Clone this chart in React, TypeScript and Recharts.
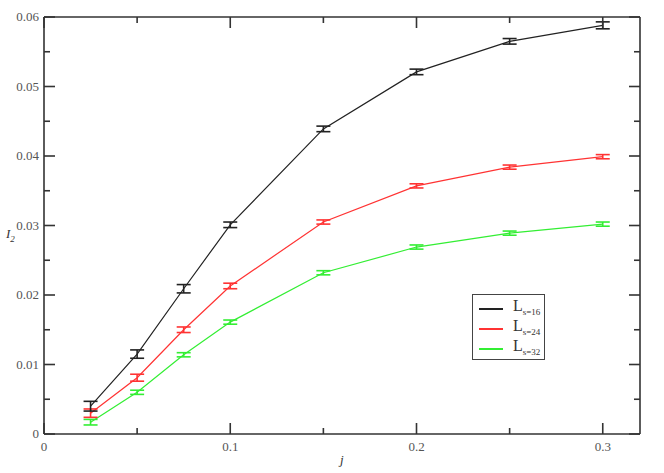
import { ComposedChart, Line, Scatter, XAxis, YAxis, ErrorBar, Legend } from "recharts";

const jValues = [0.025, 0.05, 0.075, 0.1, 0.15, 0.2, 0.25, 0.3];

const ls16 = [0.004, 0.0115, 0.0209, 0.0301, 0.0439, 0.0521, 0.0565, 0.0588];
const ls16Err = [0.0007, 0.0006, 0.0006, 0.0004, 0.0004, 0.0004, 0.0004, 0.0005];
const ls24 = [0.003, 0.0081, 0.015, 0.0213, 0.0305, 0.0357, 0.0384, 0.0399];
const ls24Err = [0.0006, 0.0005, 0.0004, 0.0004, 0.0003, 0.0003, 0.0003, 0.0003];
const ls32 = [0.0017, 0.006, 0.0114, 0.0161, 0.0232, 0.0269, 0.0289, 0.0302];
const ls32Err = [0.0004, 0.0003, 0.0003, 0.0003, 0.0003, 0.0003, 0.0003, 0.0003];

const xTicks = [0, 0.05, 0.1, 0.15, 0.2, 0.25, 0.3];
const yTicks = [0, 0.005, 0.01, 0.015, 0.02, 0.025, 0.03, 0.035, 0.04, 0.045, 0.05, 0.055, 0.06];
const X_MAX = 0.32;
const Y_MAX = 0.06;

const series = [
  { key: "ls32", sub: "s=32", color: "#33ee33" },
  { key: "ls24", sub: "s=24", color: "#ff3333" },
  { key: "ls16", sub: "s=16", color: "#222222" },
];

const data = jValues.map((j, i) => ({
  j,
  ls16: ls16[i],
  ls16Err: ls16Err[i],
  ls24: ls24[i],
  ls24Err: ls24Err[i],
  ls32: ls32[i],
  ls32Err: ls32Err[i],
}));

// tick mark anchors on each frame side
const bottomMarks = xTicks.map((v) => ({ j: v, val: 0, t: v }));
const topMarks = xTicks.map((v) => ({ j: v, val: Y_MAX, t: v }));
const leftMarks = yTicks.map((v) => ({ j: 0, val: v, t: v }));
const rightMarks = yTicks.map((v) => ({ j: X_MAX, val: v, t: v }));

const FONT = "'Liberation Serif', 'Times New Roman', serif";
const AXIS = "#333";
const MAJOR = 11;
const MINOR = 6;

const isMajor = (v: number, step: number) => {
  const r = v / step;
  return Math.abs(r - Math.round(r)) < 1e-6;
};

// inward tick mark drawn at a scaled point on the frame
const makeMark = (side: string) => (props: any) => {
  const { cx, cy, payload } = props;
  const step = side === "bottom" || side === "top" ? 0.1 : 0.01;
  const len = isMajor(payload.t, step) ? MAJOR : MINOR;
  let x2 = cx;
  let y2 = cy;
  if (side === "bottom") y2 = cy - len;
  else if (side === "top") y2 = cy + len;
  else if (side === "left") x2 = cx + len;
  else x2 = cx - len;
  return <path d={`M${cx},${cy}L${x2},${y2}`} stroke={AXIS} strokeWidth={1.6} fill="none" />;
};

// labels only, on bottom/left majors
const makeLabel = (side: string) => (props: any) => {
  const { x, y, payload } = props;
  const v = payload.value as number;
  if (side === "bottom" && isMajor(v, 0.1)) {
    return (
      <text x={x} y={y + 17} textAnchor="middle" fontSize={13} fill="#555" style={{ fontFamily: FONT }}>
        {String(v)}
      </text>
    );
  }
  if (side === "left" && isMajor(v, 0.01)) {
    return (
      <text x={x - 5} y={y + 4} textAnchor="end" fontSize={13} fill="#555" style={{ fontFamily: FONT }}>
        {String(v)}
      </text>
    );
  }
  return <g />;
};

const LegendBox = () => (
  <div
    style={{
      border: "1.5px solid #444",
      background: "#fff",
      width: 73,
      height: 66,
      boxSizing: "border-box",
      padding: "4px 0 0 6px",
      fontFamily: FONT,
    }}
  >
    {[...series].reverse().map((s) => (
      <div key={s.key} style={{ display: "flex", alignItems: "center", height: 20 }}>
        <div style={{ width: 24, height: 2, background: s.color, marginRight: 10 }} />
        <span style={{ fontSize: 16, color: "#333", lineHeight: "16px" }}>
          L<sub style={{ fontSize: 9 }}>{s.sub}</sub>
        </span>
      </div>
    ))}
  </div>
);

const axisLine = { stroke: AXIS, strokeWidth: 1.6 };

export default function App() {
  return (
    <div style={{ position: "absolute", left: 0, top: 0, background: "#fff" }}>
      <ComposedChart
        width={664}
        height={473}
        data={data}
        margin={{ top: 0, right: 0, left: 0, bottom: 0 }}
      >
        <XAxis
          xAxisId="b"
          dataKey="j"
          type="number"
          domain={[0, X_MAX]}
          ticks={xTicks}
          interval={0}
          height={39}
          tickSize={0}
          tickMargin={0}
          tickLine={false}
          axisLine={axisLine}
          tick={makeLabel("bottom")}
        />
        <XAxis
          xAxisId="t"
          orientation="top"
          dataKey="j"
          type="number"
          domain={[0, X_MAX]}
          ticks={xTicks}
          interval={0}
          height={17}
          tickLine={false}
          axisLine={axisLine}
          tick={false}
        />
        <YAxis
          yAxisId="l"
          type="number"
          domain={[0, Y_MAX]}
          ticks={yTicks}
          interval={0}
          width={44}
          tickSize={0}
          tickMargin={0}
          tickLine={false}
          axisLine={axisLine}
          tick={makeLabel("left")}
        />
        <YAxis
          yAxisId="r"
          orientation="right"
          type="number"
          domain={[0, Y_MAX]}
          ticks={yTicks}
          interval={0}
          width={24}
          tickLine={false}
          axisLine={axisLine}
          tick={false}
        />
        <Scatter xAxisId="b" yAxisId="l" data={bottomMarks} dataKey="val" shape={makeMark("bottom")} isAnimationActive={false} />
        <Scatter xAxisId="b" yAxisId="l" data={topMarks} dataKey="val" shape={makeMark("top")} isAnimationActive={false} />
        <Scatter xAxisId="b" yAxisId="l" data={leftMarks} dataKey="val" shape={makeMark("left")} isAnimationActive={false} />
        <Scatter xAxisId="b" yAxisId="l" data={rightMarks} dataKey="val" shape={makeMark("right")} isAnimationActive={false} />
        {series.map((s) => (
          <Line
            key={s.key}
            xAxisId="b"
            yAxisId="l"
            dataKey={s.key}
            stroke={s.color}
            strokeWidth={1.2}
            dot={false}
            type="linear"
            isAnimationActive={false}
          >
            <ErrorBar
              dataKey={`${s.key}Err`}
              width={7}
              stroke={s.color}
              strokeWidth={1.6}
              direction="y"
              isAnimationActive={false}
            />
          </Line>
        ))}
        <Legend
          layout="vertical"
          align="center"
          verticalAlign="middle"
          wrapperStyle={{ left: 472, top: 294, width: 73, height: 66 }}
          content={() => <LegendBox />}
        />
      </ComposedChart>
      <div
        style={{
          position: "absolute",
          left: 6,
          top: 226,
          fontFamily: FONT,
          fontStyle: "italic",
          fontSize: 13,
          color: "#333",
        }}
      >
        I<sub style={{ fontSize: 9 }}>2</sub>
      </div>
      <div
        style={{
          position: "absolute",
          left: 340,
          top: 452,
          fontFamily: FONT,
          fontStyle: "italic",
          fontSize: 13,
          color: "#333",
        }}
      >
        j
      </div>
    </div>
  );
}
